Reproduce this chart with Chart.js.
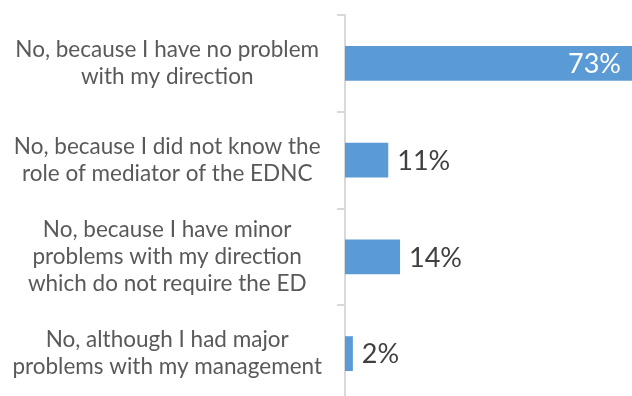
<!DOCTYPE html>
<html>
<head>
<meta charset="utf-8">
<script src="https://cdn.jsdelivr.net/npm/chart.js@4"></script>
<style>
  html, body { margin: 0; padding: 0; background: #fff; overflow: hidden; }
  #wrap { width: 632px; height: 410px; }
</style>
</head>
<body>
<div id="wrap"><canvas id="myChart"></canvas></div>
<script>
let answers = [
    ["No, because I have no problem", "with my direction"],
    ["No, because I did not know the", "role of mediator of the EDNC"],
    ["No, because I have minor", "problems with my direction", "which do not require the ED"],
    ["No, although I had major", "problems with my management"]
];
let shares = [73, 11, 14, 2];
let barColor = "#5b9bd5";

// writes "NN%" at the end of each bar, inside when it would not fit outside
const barLabels = {
    id: "barLabels",
    afterDatasetsDraw(chart) {
        let ctx = chart.ctx;
        let area = chart.chartArea;
        ctx.save();
        ctx.font = "27px Lato";
        ctx.textBaseline = "middle";
        chart.getDatasetMeta(0).data.forEach((bar, i) => {
            let text = `${shares[i]}%`;
            let w = ctx.measureText(text).width;
            if (bar.x + 9 + w > area.right) {
                ctx.fillStyle = "#ffffff";
                ctx.textAlign = "right";
                ctx.fillText(text, bar.x - 11, bar.y + 1);
            } else {
                ctx.fillStyle = "#404040";
                ctx.textAlign = "left";
                ctx.fillText(text, bar.x + 9, bar.y + 1);
            }
        });
        ctx.restore();
    }
};

new Chart("myChart", {
    type: "bar",
    data: {
        labels: answers,
        datasets: [{
            data: shares,
            backgroundColor: barColor,
            categoryPercentage: 1,
            barPercentage: 0.36
        }]
    },
    options: {
        indexAxis: "y",
        responsive: true,
        maintainAspectRatio: false,
        animation: false,
        layout: { padding: { top: 15, bottom: 8, left: 0, right: 0 } },
        plugins: {
            legend: { display: false },
            tooltip: { enabled: false }
        },
        scales: {
            x: { display: false, min: 0, max: 73 },
            y: {
                afterFit(scale) {
                    scale.width = 345;
                    // labels sit inside their bands, no extra room needed above/below
                    scale.paddingTop = 0;
                    scale.paddingBottom = 0;
                },
                border: { color: "#d9d9d9", width: 2 },
                grid: {
                    offset: true,
                    drawOnChartArea: false,
                    drawTicks: true,
                    tickLength: 8,
                    color: "#d9d9d9",
                    lineWidth: 2
                },
                ticks: {
                    crossAlign: "center",
                    padding: 15,
                    color: "#595959",
                    font: { family: "Lato", size: 22.5, lineHeight: 1.2 }
                }
            }
        }
    },
    plugins: [barLabels]
});
</script>
</body>
</html>
